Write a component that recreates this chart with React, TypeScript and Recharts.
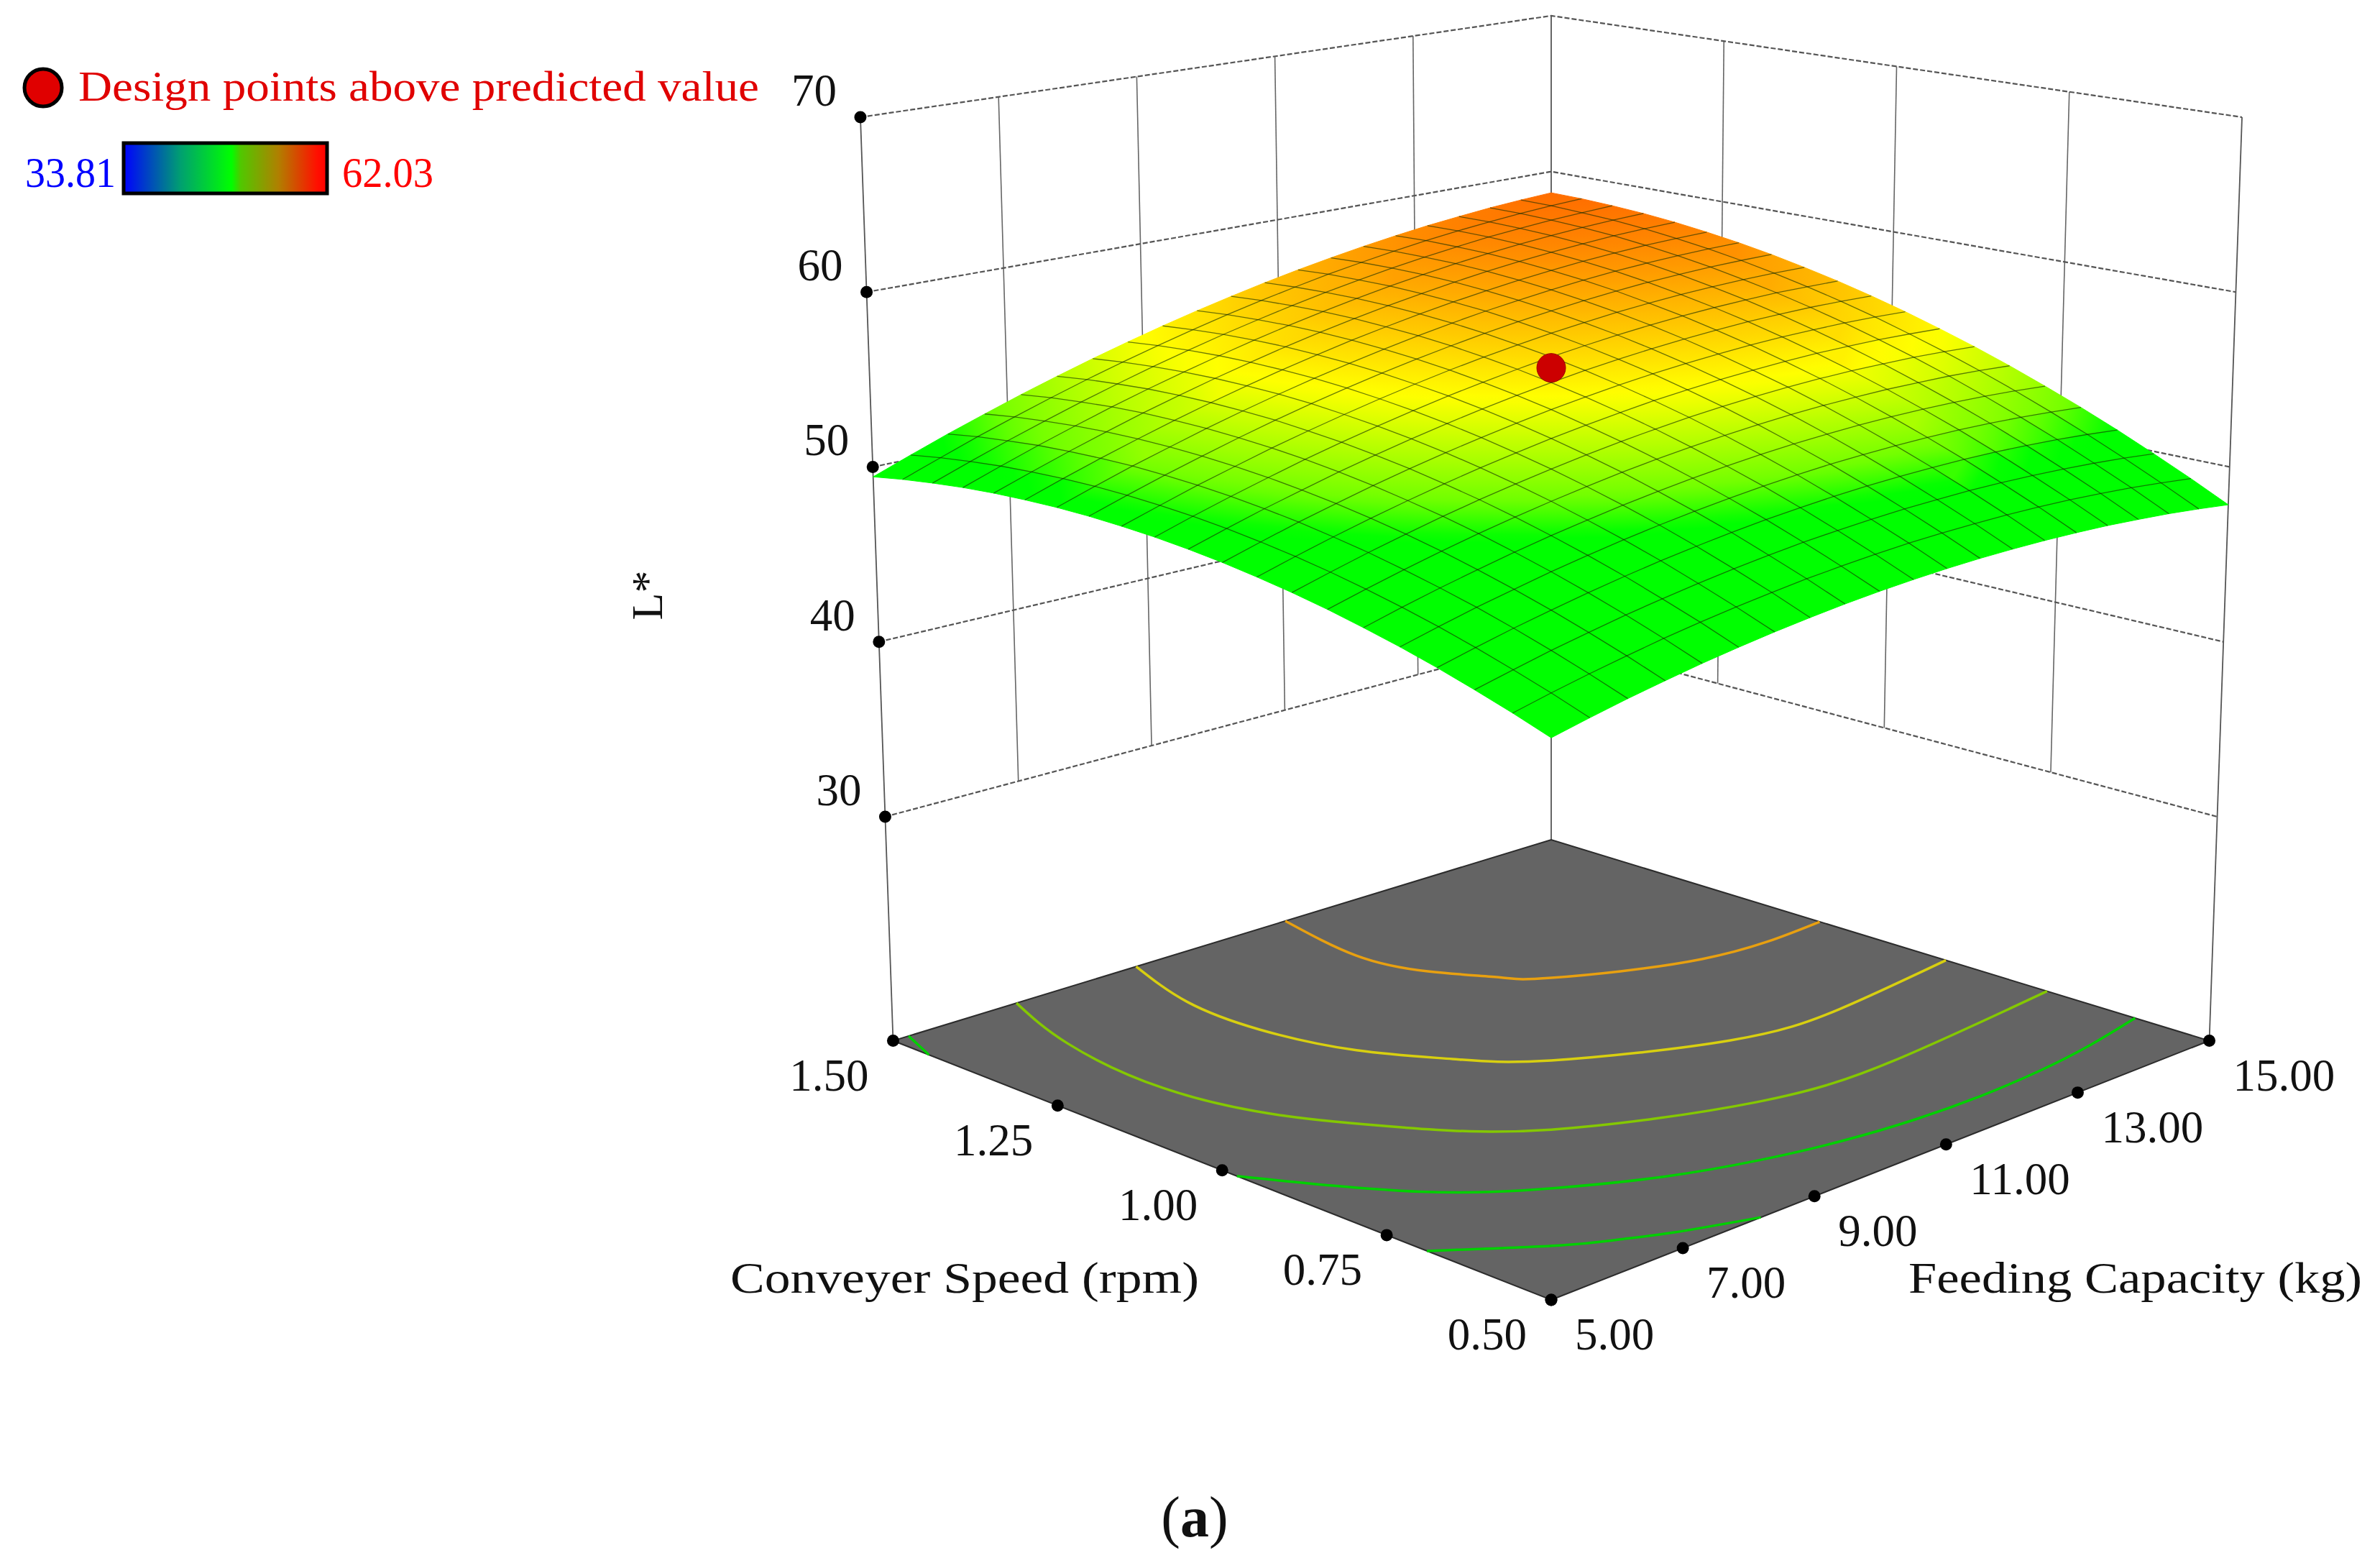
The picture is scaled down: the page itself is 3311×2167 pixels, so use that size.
import React from "react";
import { ScatterChart, Scatter, XAxis, YAxis, Customized } from "recharts";

const W = 3311;
const H = 2167;
const FONT = "'Liberation Serif', serif";

const feedingTicks = [5, 7, 9, 11, 13, 15];
const speedTicks = [0.5, 0.75, 1, 1.25, 1.5];
const lTicks = [30, 40, 50, 60, 70];

const feedingGrid = [5, 5.5, 6, 6.5, 7, 7.5, 8, 8.5, 9, 9.5, 10, 10.5, 11, 11.5, 12, 12.5, 13, 13.5, 14, 14.5, 15];
const speedGrid = [0.5, 0.55, 0.6, 0.65, 0.7, 0.75, 0.8, 0.85, 0.9, 0.95, 1, 1.05, 1.1, 1.15, 1.2, 1.25, 1.3, 1.35, 1.4, 1.45, 1.5];

// L* at the mesh nodes, one row per feeding capacity, speed 0.50 -> 1.50.
// Estimated: corners, edge midpoints and centre, the rest
// hand-fitted between them and checked against the contour arcs on the floor.
const lGrid = [
  [45.90, 46.60, 47.24, 47.84, 48.38, 48.86, 49.30, 49.68, 50.00, 50.28, 50.50, 50.67, 50.78, 50.85, 50.86, 50.81, 50.72, 50.57, 50.36, 50.11, 49.80],
  [46.36, 47.08, 47.73, 48.35, 48.91, 49.41, 49.86, 50.26, 50.60, 50.89, 51.13, 51.32, 51.44, 51.53, 51.56, 51.53, 51.45, 51.32, 51.13, 50.89, 50.60],
  [46.79, 47.52, 48.20, 48.83, 49.41, 49.92, 50.39, 50.81, 51.16, 51.48, 51.73, 51.93, 52.08, 52.18, 52.23, 52.21, 52.15, 52.04, 51.86, 51.65, 51.37],
  [47.17, 47.92, 48.61, 49.26, 49.85, 50.39, 50.88, 51.31, 51.68, 52.01, 52.28, 52.50, 52.66, 52.78, 52.84, 52.85, 52.81, 52.71, 52.55, 52.35, 52.09],
  [47.53, 48.30, 49.01, 49.67, 50.28, 50.83, 51.34, 51.79, 52.17, 52.52, 52.81, 53.05, 53.23, 53.36, 53.44, 53.46, 53.44, 53.36, 53.21, 53.03, 52.79],
  [47.84, 48.63, 49.35, 50.04, 50.66, 51.23, 51.75, 52.22, 52.62, 52.99, 53.29, 53.55, 53.74, 53.90, 53.99, 54.03, 54.02, 53.96, 53.83, 53.67, 53.44],
  [48.12, 48.92, 49.66, 50.37, 51.01, 51.59, 52.13, 52.61, 53.04, 53.42, 53.74, 54.01, 54.22, 54.40, 54.51, 54.56, 54.57, 54.52, 54.42, 54.27, 54.06],
  [48.36, 49.18, 49.94, 50.66, 51.32, 51.92, 52.47, 52.97, 53.41, 53.81, 54.15, 54.44, 54.67, 54.86, 54.99, 55.06, 55.08, 55.05, 54.96, 54.83, 54.64],
  [48.57, 49.41, 50.18, 50.92, 51.59, 52.21, 52.79, 53.30, 53.76, 54.17, 54.53, 54.84, 55.08, 55.29, 55.43, 55.52, 55.57, 55.55, 55.48, 55.36, 55.19],
  [48.74, 49.59, 50.39, 51.14, 51.83, 52.47, 53.06, 53.59, 54.06, 54.50, 54.87, 55.19, 55.46, 55.68, 55.84, 55.95, 56.01, 56.01, 55.95, 55.86, 55.70],
  [48.87, 49.74, 50.55, 51.32, 52.03, 52.68, 53.29, 53.84, 54.33, 54.78, 55.17, 55.51, 55.79, 56.03, 56.21, 56.33, 56.41, 56.43, 56.39, 56.31, 56.17],
  [48.97, 49.86, 50.68, 51.47, 52.20, 52.87, 53.49, 54.06, 54.57, 55.03, 55.44, 55.80, 56.09, 56.35, 56.55, 56.69, 56.78, 56.82, 56.80, 56.73, 56.61],
  [49.03, 49.93, 50.78, 51.58, 52.33, 53.01, 53.65, 54.24, 54.76, 55.25, 55.67, 56.04, 56.36, 56.63, 56.85, 57.00, 57.11, 57.17, 57.16, 57.12, 57.01],
  [49.05, 49.97, 50.83, 51.65, 52.41, 53.12, 53.78, 54.38, 54.92, 55.42, 55.86, 56.25, 56.58, 56.87, 57.10, 57.28, 57.41, 57.48, 57.49, 57.46, 57.37],
  [49.04, 49.98, 50.86, 51.69, 52.47, 53.19, 53.87, 54.49, 55.04, 55.56, 56.02, 56.43, 56.78, 57.08, 57.33, 57.52, 57.67, 57.76, 57.78, 57.77, 57.70],
  [48.99, 49.95, 50.84, 51.70, 52.49, 53.23, 53.92, 54.56, 55.13, 55.67, 56.14, 56.57, 56.93, 57.26, 57.52, 57.73, 57.89, 58.00, 58.04, 58.05, 57.99],
  [48.91, 49.88, 50.79, 51.67, 52.48, 53.23, 53.94, 54.59, 55.19, 55.74, 56.23, 56.67, 57.05, 57.40, 57.68, 57.90, 58.08, 58.20, 58.27, 58.29, 58.25],
  [48.78, 49.77, 50.70, 51.59, 52.42, 53.19, 53.91, 54.58, 55.19, 55.76, 56.27, 56.73, 57.13, 57.49, 57.79, 58.03, 58.22, 58.36, 58.44, 58.48, 58.46],
  [48.63, 49.64, 50.58, 51.49, 52.33, 53.12, 53.87, 54.55, 55.18, 55.76, 56.29, 56.77, 57.18, 57.56, 57.87, 58.13, 58.35, 58.50, 58.60, 58.65, 58.65],
  [48.43, 49.45, 50.42, 51.34, 52.20, 53.01, 53.77, 54.47, 55.11, 55.72, 56.26, 56.75, 57.19, 57.58, 57.91, 58.19, 58.42, 58.59, 58.70, 58.78, 58.79],
  [48.20, 49.24, 50.22, 51.16, 52.04, 52.86, 53.64, 54.36, 55.02, 55.64, 56.20, 56.71, 57.16, 57.57, 57.92, 58.21, 58.46, 58.65, 58.78, 58.87, 58.90],
];

// floor contours as [feeding, speed]
const contourOrange = [[10.67, 1.5], [10.42, 1.353], [10.62, 1.257], [11.05, 1.185], [11.44, 1.144], [13.09, 1.069], [15, 1.063]];
const contourYellow = [[8.42, 1.5], [8.05, 1.37], [8.02, 1.247], [8.32, 1.126], [8.86, 1.034], [9.57, 0.957], [11.36, 0.865], [12.94, 0.848], [15, 0.872]];
const contourLime = [[6.7, 1.5], [6.27, 1.36], [6.11, 1.185], [6.46, 1.036], [7.11, 0.923], [8.13, 0.813], [10.2, 0.718], [12.15, 0.699], [15, 0.725]];
const contourGreen = [[5, 0.944], [6, 0.785], [7, 0.698], [8, 0.6415], [9, 0.6047], [10, 0.5811], [11, 0.5684], [12, 0.5651], [13, 0.5698], [14, 0.5821], [15, 0.6014]];
const contourGreenCorner = [[5.21, 1.5], [5, 1.438]];
const contourLow = [[5, 0.669], [6, 0.5887], [6.5, 0.559], [7, 0.534], [7.9, 0.5]];

const designPoint = { feeding: 10, speed: 1, l: 56 };

// perspective camera fitted to the box corners
const project = (feeding: number, speed: number, l: number) => {
  const a = (feeding - 5) / 10;
  const b = speed - 0.5;
  const t = l === 0 ? 0 : 0.2516 + 0.01871 * (l - 30);
  const w = 1 + 0.1449 * (a + b) - 0.0542 * t;
  return {
    x: 2158 + (1048.2 * (a - b)) / w,
    y: 1808 + (-412.7 * (a + b) - 1381.5 * t) / w,
  };
};
const lerp = (p: any, q: any, f: number) => ({ x: p.x + (q.x - p.x) * f, y: p.y + (q.y - p.y) * f });

// the box ticks are evenly spaced on screen, so they are placed along the projected edges
const wallPoint = (feeding: number, speed: number, l: number) =>
  lerp(project(feeding, speed, 30), project(feeding, speed, 70), (l - 30) / 40);

const wallLevels = lTicks.map((l) => [wallPoint(5, 1.5, l), wallPoint(15, 1.5, l), wallPoint(15, 0.5, l)]);
const wallVerticals = [
  ...feedingTicks.slice(1, -1).map((f) => {
    const k = (f - 5) / 10;
    return [lerp(wallPoint(5, 1.5, 70), wallPoint(15, 1.5, 70), k), lerp(wallPoint(5, 1.5, 30), wallPoint(15, 1.5, 30), k)];
  }),
  ...speedTicks.slice(1, -1).map((s) => {
    const k = s - 0.5;
    return [lerp(wallPoint(15, 0.5, 70), wallPoint(15, 1.5, 70), k), lerp(wallPoint(15, 0.5, 30), wallPoint(15, 1.5, 30), k)];
  }),
];
const cornerVerticals = [
  [wallPoint(5, 1.5, 70), project(5, 1.5, 0)],
  [wallPoint(15, 1.5, 70), project(15, 1.5, 0)],
  [wallPoint(15, 0.5, 70), project(15, 0.5, 0)],
];

const floorCorners = [project(5, 0.5, 0), project(15, 0.5, 0), project(15, 1.5, 0), project(5, 1.5, 0)];
const floorData = [{ ...floorCorners[0], pts: floorCorners }];

const lTickData = lTicks.map((l) => ({ ...wallPoint(5, 1.5, l), label: String(l), dx: -33, dy: -16, anchor: "end" }));
const speedTickData = speedTicks.map((s) => ({
  ...lerp(project(5, 0.5, 0), project(5, 1.5, 0), s - 0.5),
  label: s.toFixed(2),
  dx: -34,
  dy: 69,
  anchor: "end",
}));
const feedingTickData = feedingTicks.map((f) => ({
  ...lerp(project(5, 0.5, 0), project(15, 0.5, 0), (f - 5) / 10),
  label: f.toFixed(2),
  dx: 33,
  dy: 69,
  anchor: "start",
}));

const colorStops = [
  [0, 0, 255, 0],
  [51.2, 0, 255, 0],
  [52.2, 112, 255, 0],
  [54.8, 255, 255, 0],
  [62.03, 255, 0, 0],
];
const colorFor = (l: number) => {
  let i = 0;
  while (i < colorStops.length - 2 && l > colorStops[i + 1][0]) i++;
  const [l0, r0, g0, b0] = colorStops[i];
  const [l1, r1, g1, b1] = colorStops[i + 1];
  const f = Math.max(0, Math.min(1, (l - l0) / (l1 - l0)));
  return `rgb(${Math.round(r0 + (r1 - r0) * f)},${Math.round(g0 + (g1 - g0) * f)},${Math.round(b0 + (b1 - b0) * f)})`;
};

// cells back to front so nearer ones paint last
const cells: any[] = [];
for (let i = feedingGrid.length - 2; i >= 0; i--) {
  for (let j = speedGrid.length - 2; j >= 0; j--) {
    const nodes = [
      [i, j],
      [i + 1, j],
      [i + 1, j + 1],
      [i, j + 1],
    ].map(([fi, si]) => ({ ...project(feedingGrid[fi], speedGrid[si], lGrid[fi][si]), l: lGrid[fi][si] }));
    const low = nodes.reduce((m, n) => (n.l < m.l ? n : m));
    const high = nodes.reduce((m, n) => (n.l > m.l ? n : m));
    cells.push({ x: nodes[0].x, y: nodes[0].y, pts: nodes, low, high, id: `cell-${i}-${j}` });
  }
}

const meshAlongSpeed = feedingGrid.slice(1, -1).map((f, i) => speedGrid.map((s, j) => project(f, s, lGrid[i + 1][j])));
const meshAlongFeeding = speedGrid.slice(1, -1).map((s, j) => feedingGrid.map((f, i) => project(f, s, lGrid[i][j + 1])));

const contourPath = (pts: number[][]) => pts.map(([f, s]) => project(f, s, 0));

const NoDot = () => <g />;

const Poly = (props: any) => {
  const { cx, cy, payload, fill, stroke, strokeWidth } = props;
  const dx = cx - payload.x;
  const dy = cy - payload.y;
  const pts = payload.pts.map((p: any) => `${p.x + dx},${p.y + dy}`).join(" ");
  return <polygon points={pts} fill={fill} stroke={stroke} strokeWidth={strokeWidth} />;
};

const SurfaceCell = (props: any) => {
  const { cx, cy, payload } = props;
  const dx = cx - payload.x;
  const dy = cy - payload.y;
  const { low, high, id } = payload;
  const pts = payload.pts.map((p: any) => `${p.x + dx},${p.y + dy}`).join(" ");
  const fracs = [0, 0.25, 0.5, 0.75, 1];
  return (
    <g>
      <defs>
        <linearGradient id={id} gradientUnits="userSpaceOnUse" x1={low.x + dx} y1={low.y + dy} x2={high.x + dx} y2={high.y + dy}>
          {fracs.map((f) => (
            <stop key={f} offset={f} stopColor={colorFor(low.l + (high.l - low.l) * f)} />
          ))}
        </linearGradient>
      </defs>
      <polygon points={pts} fill={`url(#${id})`} stroke={`url(#${id})`} strokeWidth={1} />
    </g>
  );
};

const TickDot = (props: any) => {
  const { cx, cy, payload } = props;
  return (
    <g>
      <circle cx={cx} cy={cy} r={8.5} fill="#000" />
      <text x={cx + payload.dx} y={cy + payload.dy} textAnchor={payload.anchor} fontFamily={FONT} fontSize={63} fill="#111">
        {payload.label}
      </text>
    </g>
  );
};

const DesignDot = (props: any) => <circle cx={props.cx} cy={props.cy} r={20} fill="#cc0000" stroke="#9a0000" strokeWidth={1} />;

const Annotations = () => (
  <g fontFamily={FONT}>
    <defs>
      <linearGradient id="legendBar" x1="0" x2="1" y1="0" y2="0">
        <stop offset="0" stopColor="#0000ff" />
        <stop offset="0.28" stopColor="#00a070" />
        <stop offset="0.53" stopColor="#00ff00" />
        <stop offset="0.575" stopColor="#50c800" />
        <stop offset="0.76" stopColor="#b08000" />
        <stop offset="0.95" stopColor="#ff1000" />
        <stop offset="1" stopColor="#ff0000" />
      </linearGradient>
    </defs>
    <circle cx={60} cy={122} r={26} fill="#e00000" stroke="#000" strokeWidth={5} />
    <text x={109} y={140} fontSize={59} fill="#e00000" textLength={947} lengthAdjust="spacingAndGlyphs">
      Design points above predicted value
    </text>
    <rect x={172} y={199} width={283} height={70} fill="url(#legendBar)" stroke="#000" strokeWidth={5} />
    <text x={35} y={260} fontSize={59} fill="#0000ff" textLength={126} lengthAdjust="spacingAndGlyphs">
      33.81
    </text>
    <text x={476} y={260} fontSize={59} fill="#ff0000" textLength={127} lengthAdjust="spacingAndGlyphs">
      62.03
    </text>
    <text x={1016} y={1798} fontSize={62} fill="#111" textLength={652} lengthAdjust="spacingAndGlyphs">
      Conveyer Speed (rpm)
    </text>
    <text x={2655} y={1798} fontSize={62} fill="#111" textLength={631} lengthAdjust="spacingAndGlyphs">
      Feeding Capacity (kg)
    </text>
    <text transform="translate(921,828) rotate(-90)" textAnchor="middle" fontSize={62} fill="#111">
      L*
    </text>
    <text x={1662} y={2137} textAnchor="middle" fontSize={80} fill="#111">
      (<tspan fontWeight="bold">a</tspan>)
    </text>
  </g>
);

const lineSeries = (key: string, pts: any[], stroke: string, strokeWidth: number, dash?: string, joint: any = "linear") => (
  <Scatter
    key={key}
    data={pts}
    line={{ stroke, strokeWidth, strokeDasharray: dash }}
    lineJointType={joint}
    shape={NoDot}
    isAnimationActive={false}
  />
);

export default function App() {
  return (
    <div style={{ position: "absolute", left: 0, top: 0, width: W, height: H, background: "#fff" }}>
      <ScatterChart width={W} height={H} margin={{ top: 0, right: 0, bottom: 0, left: 0 }}>
        <XAxis type="number" dataKey="x" domain={[0, W]} hide />
        <YAxis type="number" dataKey="y" domain={[0, H]} reversed hide />

        {wallVerticals.map((pts, i) => lineSeries(`wv${i}`, pts, "#666", 1.6))}
        {cornerVerticals.map((pts, i) => lineSeries(`cv${i}`, pts, "#555", 1.8))}
        {wallLevels.map((pts, i) => lineSeries(`wl${i}`, pts, "#555", 2.2, "7 3"))}

        <Scatter data={floorData} shape={<Poly fill="#646464" stroke="#2c2c2c" strokeWidth={2} />} isAnimationActive={false} />
        {lineSeries("c1", contourPath(contourOrange), "#e8a010", 3.5, undefined, "natural")}
        {lineSeries("c2", contourPath(contourYellow), "#d8cf10", 3.5, undefined, "natural")}
        {lineSeries("c3", contourPath(contourLime), "#84c800", 3.5, undefined, "natural")}
        {lineSeries("c4", contourPath(contourGreen), "#00d000", 3.5, undefined, "natural")}
        {lineSeries("c4b", contourPath(contourGreenCorner), "#00d000", 3.5)}
        {lineSeries("c5", contourPath(contourLow), "#00d000", 3.5, undefined, "natural")}

        <Scatter data={lTickData} shape={TickDot} isAnimationActive={false} />
        <Scatter data={speedTickData} shape={TickDot} isAnimationActive={false} />
        <Scatter data={feedingTickData} shape={TickDot} isAnimationActive={false} />

        <Scatter data={cells} shape={SurfaceCell} isAnimationActive={false} />
        {meshAlongSpeed.map((pts, i) => lineSeries(`ms${i}`, pts, "rgba(20,45,0,0.62)", 1.3))}
        {meshAlongFeeding.map((pts, i) => lineSeries(`mf${i}`, pts, "rgba(20,45,0,0.62)", 1.3))}

        <Scatter data={[project(designPoint.feeding, designPoint.speed, designPoint.l)]} shape={DesignDot} isAnimationActive={false} />
        <Customized component={Annotations} />
      </ScatterChart>
    </div>
  );
}
